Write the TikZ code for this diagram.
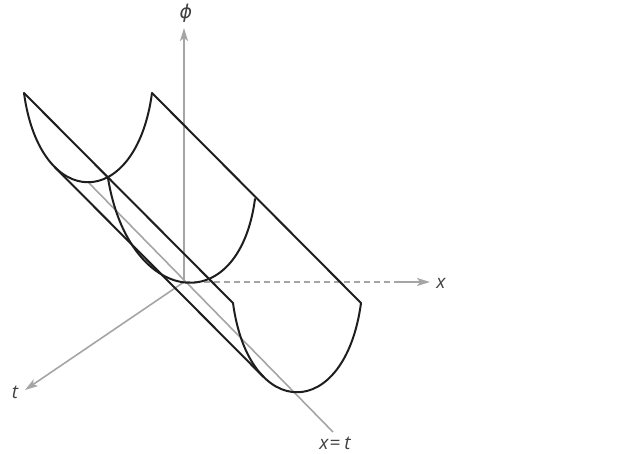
\documentclass[tikz,border=0pt]{standalone}
\usepackage{fontspec}
\setmainfont{Open Sans}
\newfontfamily\greekfont{DejaVu Sans}
\usetikzlibrary{arrows.meta}
\definecolor{axisgray}{RGB}{165,165,165}
\definecolor{ink}{RGB}{30,30,30}
\begin{document}
\begin{tikzpicture}[x=1pt,y=-1pt,
  axis/.style={draw=axisgray, line width=1.6pt},
  tipped/.style={-{Stealth[length=13pt,width=8pt,inset=3pt]}},
  surf/.style={draw=ink, line width=2pt, line join=round, line cap=round},
  lab/.style={font=\fontsize{19}{19}\selectfont\itshape, inner sep=0pt, text=ink!85}]
\useasboundingbox (0,0) rectangle (626,454);
% axes points
\coordinate (O) at (184,282);
\coordinate (phitip) at (184,28);
\coordinate (xdash) at (398,282);
\coordinate (xtip) at (430,282);
\coordinate (ttip) at (25,390);
% back section
\coordinate (BL) at (24,93);
\coordinate (BR) at (152,93);
\coordinate (BV) at (88,182);
% middle section
\coordinate (ML) at (108,178);
\coordinate (MR) at (255,199);
% front section
\coordinate (FL) at (233,303);
\coordinate (FR) at (361,303);
% silhouette
\coordinate (S1) at (54.6,167);
\coordinate (S2) at (263.6,377);
% x = t line end
\coordinate (XT) at (333,432);
% axes
\draw[axis, tipped] (O) -- (phitip);
\draw[axis, dash pattern=on 6pt off 4pt] (O) -- (xdash);
\draw[axis, tipped] (xdash) -- (xtip);
\draw[axis, tipped] (O) -- (ttip);
\draw[axis] (BV) -- (XT);
% surface
\draw[surf] (BL) .. controls (40,212) and (136,212) .. (BR);
\draw[surf] (BL) -- (FL);
\draw[surf] (BR) -- (FR);
\draw[surf] (FL) .. controls (249,422) and (345,422) .. (FR);
\draw[surf] (ML) .. controls (128.4,305.6) and (238.6,321.4) .. (MR);
\draw[surf] (S1) -- (S2);
% labels
\node[lab] (philab) at (186,13) {\greekfont\itshape ϕ};
\node[lab] (xlab) at (441,283) {x};
\node[lab] (tlab) at (15,392) {t};
\node[lab] (xtlab) at (335,443) {x\kern1pt=\kern4pt t};
\end{tikzpicture}
\end{document}
